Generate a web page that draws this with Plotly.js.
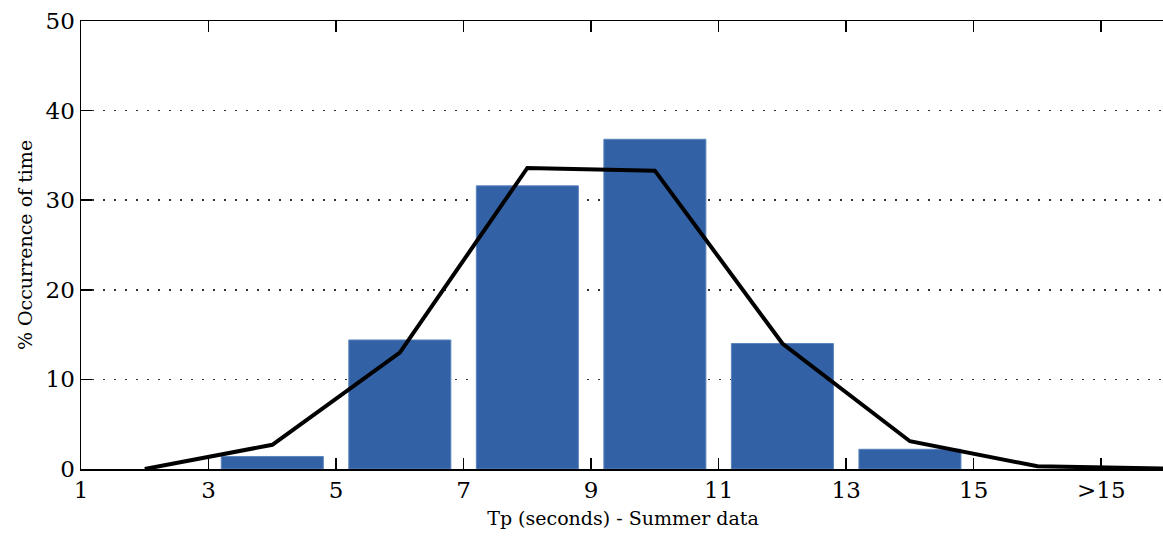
<!DOCTYPE html>
<html>
<head>
<meta charset="utf-8">
<script src="https://cdn.plot.ly/plotly-3.0.1.min.js"></script>
<style>
  html, body { margin: 0; padding: 0; overflow: hidden; background: #fff; }
  #chart { width: 1200px; height: 540px; }
</style>
</head>
<body>
<div id="chart"></div>
<script>
// Peak period bins (bar centres, seconds) and % of time in each bin
const binCenters = [4, 6, 8, 10, 12, 14];
const binPercent = [1.4, 14.4, 31.6, 36.8, 14.0, 2.2];

// Smoothed occurrence curve
const curveTp = [2, 4, 6, 8, 10, 12, 14, 16, 18];
const curvePercent = [0, 2.7, 13.0, 33.6, 33.3, 14.0, 3.1, 0.3, 0.05];

// Axis tick labels
const xTickVals = [1, 3, 5, 7, 9, 11, 13, 15, 17];
const xTickText = ['1', '3', '5', '7', '9', '11', '13', '15', '>15'];
const yTickVals = [0, 10, 20, 30, 40, 50];

const serif = 'DejaVu Serif, Liberation Serif, serif';

const bars = {
  type: 'bar',
  x: binCenters,
  y: binPercent,
  width: 1.6,
  marker: { color: '#3262a5', line: { color: '#5a84bd', width: 1 } },
  hoverinfo: 'x+y'
};

const curve = {
  type: 'scatter',
  mode: 'lines',
  x: curveTp,
  y: curvePercent,
  line: { color: '#000000', width: 4 },
  cliponaxis: true
};

const layout = {
  width: 1200,
  height: 540,
  margin: { l: 81, r: 35, t: 21, b: 71 },
  paper_bgcolor: '#ffffff',
  plot_bgcolor: '#ffffff',
  showlegend: false,
  font: { family: serif, color: '#000000' },
  xaxis: {
    range: [1, 18],
    tickvals: xTickVals,
    ticktext: xTickText,
    ticks: 'inside',
    ticklen: 11,
    tickwidth: 1.5,
    tickcolor: '#000000',
    tickfont: { family: serif, size: 23, color: '#000000' },
    showline: true,
    linecolor: '#000000',
    linewidth: 1.5,
    mirror: 'ticks',
    showgrid: false,
    zeroline: false,
    layer: 'below traces',
    title: { text: 'Tp (seconds) - Summer data', font: { family: serif, size: 19, color: '#000000' }, standoff: 9 }
  },
  yaxis: {
    range: [0, 50],
    tickvals: yTickVals,
    ticks: 'inside',
    ticklen: 11,
    tickwidth: 1.5,
    tickcolor: '#000000',
    tickfont: { family: serif, size: 23, color: '#000000' },
    showline: true,
    linecolor: '#000000',
    linewidth: 1.5,
    showgrid: true,
    gridcolor: '#333333',
    gridwidth: 1.5,
    griddash: '2px,9px',
    zeroline: false,
    layer: 'below traces',
    title: { text: '% Occurrence of time', font: { family: serif, size: 19, color: '#000000' }, standoff: 8 }
  }
};

Plotly.newPlot('chart', [bars, curve], layout, { displayModeBar: false, staticPlot: true });
</script>
</body>
</html>
